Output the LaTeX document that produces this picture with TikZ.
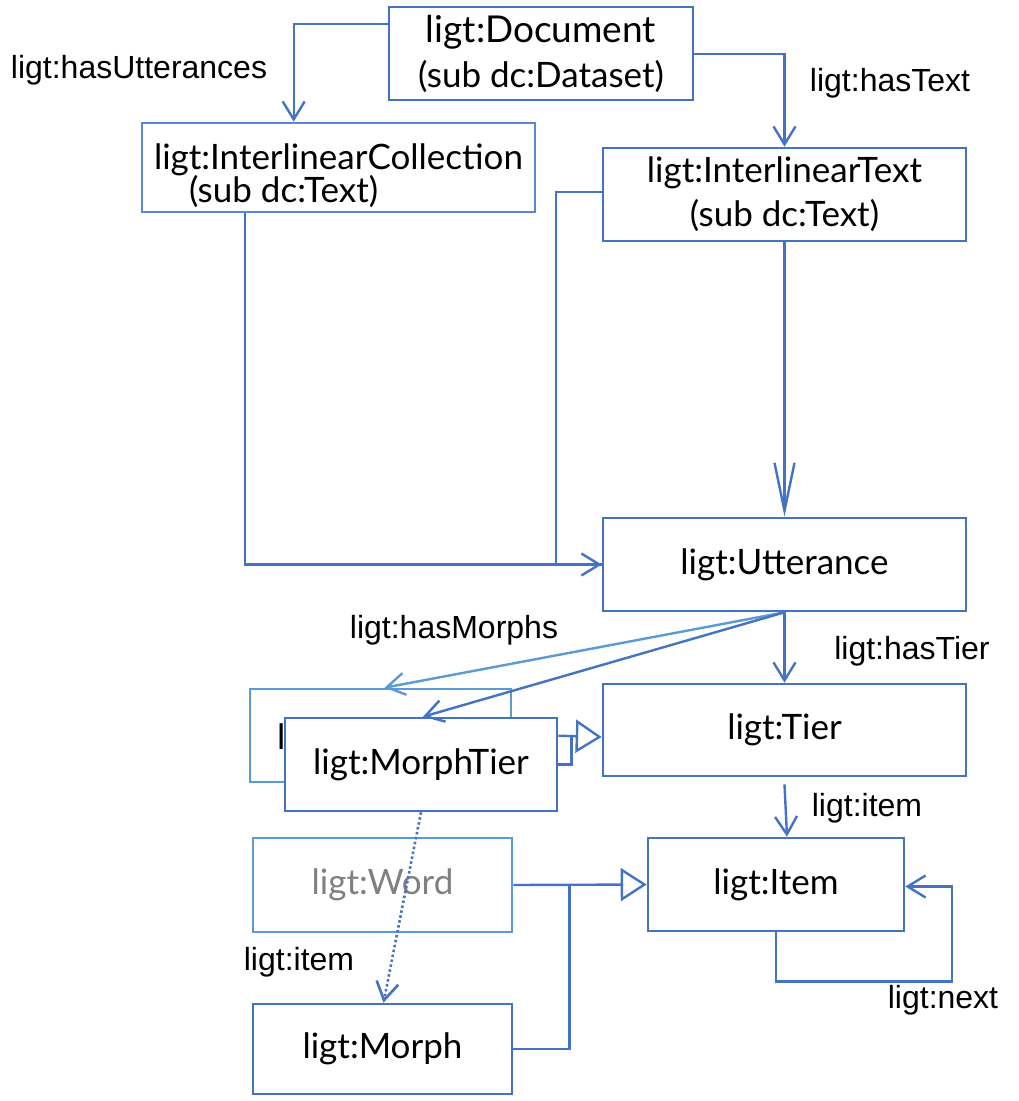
\documentclass[tikz,border=0pt]{standalone}
\usepackage{fontspec}
\setmainfont{Lato}
\newfontfamily\lblfont{Liberation Sans}
\usetikzlibrary{arrows.meta,calc}
\definecolor{dblue}{HTML}{4472C4}
\definecolor{mblue}{HTML}{5A86D6}
\definecolor{lblue}{HTML}{5B9BD5}
\definecolor{txtgray}{HTML}{808080}
\tikzset{
 box/.style={draw=dblue,line width=2.6pt,fill=white,inner sep=0pt,align=center,font=\fontsize{35}{45}\selectfont},
 boxtext/.style={inner sep=0pt,font=\fontsize{35}{45}\selectfont},
 lbl/.style={inner sep=0pt,font=\lblfont\fontsize{32}{38}\selectfont},
 conn/.style={draw=dblue,line width=2.4pt},
 barb/.style={-{Straight Barb[length=18pt,width=22pt]}},
 tri/.style={-{Triangle[open,length=26pt,width=33pt]}},
}
\begin{document}
\begin{tikzpicture}[x=1pt,y=-1pt]
\useasboundingbox[fill=white] (0,0) rectangle (1019,1101);
% boxes
\node[box,minimum width=304pt,minimum height=93pt] (doc) at (541,53.5) {{\fontsize{37}{45}\selectfont ligt:Document}\\(sub dc:Dataset)};
\node[box,draw=mblue,align=left,minimum width=393pt,minimum height=89pt] (coll) at (338.5,167.5) {\rule{0pt}{42pt}ligt:InterlinearCollection\\[-12pt]\hspace*{35pt}(sub dc:Text)};
\node[box,minimum width=363pt,minimum height=93pt] (itext) at (784.5,194.5) {ligt:InterlinearText\\[-1pt](sub dc:Text)};
\node[box,minimum width=363pt,minimum height=93pt] (utt) at (784.5,564.5) {ligt:Utterance};
\node[box,minimum width=363pt,minimum height=92pt] (tier) at (784.5,730) {ligt:Tier};
\node[box,draw=lblue,minimum width=261pt,minimum height=93pt] (wtier) at (380.5,735.5) {};
\node[boxtext,anchor=base west] (wtl) at (277,749) {l};
\node[box,minimum width=272pt,minimum height=93pt] (mtier) at (421,764.5) {ligt:MorphTier};
\node[box,draw=lblue,text=txtgray,minimum width=259pt,minimum height=94pt] (word) at (382.5,885) {ligt:Word};
\node[box,minimum width=259pt,minimum height=90pt] (morph) at (382.5,1049) {ligt:Morph};
\node[box,minimum width=256pt,minimum height=93pt] (item) at (776,884.5) {ligt:Item};
% labels
\node[lbl] (lhu) at (139,70) {ligt:hasUtterances};
\node[lbl] (lht) at (890,83) {ligt:hasText};
\node[lbl] (lhm) at (454,630) {ligt:hasMorphs};
\node[lbl] (lhtier) at (912,651) {ligt:hasTier};
\node[lbl] (lit1) at (867,808) {ligt:item};
\node[lbl] (lit2) at (299,962) {ligt:item};
\node[lbl] (lnx) at (943,1000) {ligt:next};
% connectors
\draw[conn,barb] ($(doc.north west)+(0,18)$) -| ($(coll.north west)+(153,0)$);
\draw[conn,barb] ($(doc.north east)+(0,48)$) -| (itext.north);
\draw[conn,barb] ($(coll.south west)+(104,0)$) |- (utt.west);
\draw[conn] ($(itext.north west)+(0,45)$) -- ++(-46,0) |- (utt.west);
\draw[conn,-{Straight Barb[length=48pt,width=20pt]}] (itext.south) -- (utt.north);
\draw[conn,barb] (utt.south) -- (tier.north);
\draw[conn,draw=lblue,barb] (utt.south) -- ($(wtier.north)+(4,0)$);
\draw[conn,barb] (utt.south) -- ($(mtier.north)+(2,0)$);
\draw[conn,tri] ($(mtier.north east)+(0,19)$) -- ($(tier.west)+(0,7)$);
\draw[conn] (mtier.east) -- ++(13,0) -- ++(0,-28);
\draw[conn,barb] ($(tier.south)+(0,7)$) -- ($(item.north)+(11,0)$);
\draw[conn,tri] (word.east) -- (item.west);
\draw[conn] (morph.east) -| ($(word.east)+(56,0)$);
\draw[conn,barb,line width=2.6pt,dash pattern=on 2.5pt off 2.5pt] (mtier.south) -- ($(morph.north)+(1,0)$);
\draw[conn,barb] (item.south) |- ($(item.south)+(176,49)$) |- ($(item.east)+(0,2)$);
\end{tikzpicture}
\end{document}
